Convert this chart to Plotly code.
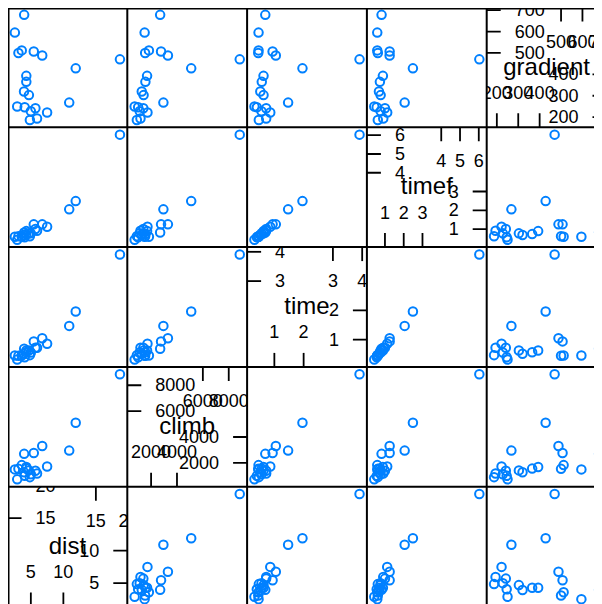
import plotly.graph_objects as go

# ---- data ----
names = ["dist", "climb", "time", "timef", "gradient"]
dist = [18.7, 11.9, 10.9, 6.75, 5.45, 3.97, 2.54, 3.09, 3.6, 4.3, 4.3, 4.7, 3.95,
        7.5, 5.95, 5.7, 4.85, 4.05, 2.9, 5.0]
climb = [8850, 5100, 2950, 3300, 2770, 2700, 1500, 1540, 1830, 1690, 1560, 1420, 1280,
         1720, 1180, 1400, 900, 1000, 730, 1120]
time = [3.91, 1.96, 1.47, 1.05, 0.94, 0.69, 0.46, 0.45, 0.46, 0.63, 0.57, 0.63, 0.52,
        0.86, 0.72, 0.72, 0.47, 0.40, 0.32, 0.56]
timef = [6.03, 2.49, 2.05, 1.25, 1.25, 0.82, 0.59, 0.62, 0.59, 0.89, 0.73, 0.77, 0.68,
         1.12, 0.91, 1.0, 0.62, 0.56, 0.43, 0.77]
gradient = [470, 428, 268, 488, 507, 678, 595, 500, 512, 393, 365, 303, 320,
            222, 194, 242, 187, 246, 250, 228]

ticks_low = {"dist": [5, 10], "climb": [2000, 4000], "time": [1, 2],
             "timef": [1, 2, 3], "gradient": [200, 300, 400]}
ticks_high = {"dist": [15, 20], "climb": [6000, 8000], "time": [3, 4],
              "timef": [4, 5, 6], "gradient": [500, 600, 700]}

data = [dist, climb, time, timef, gradient]
n = len(names)

# ---- geometry (figure pixels; page body adds an 8px offset) ----
W, H = 594, 596
L0, T0, P = -0.5, -0.5, 119.8
PAD = 0.07
FONT = "Liberation Sans, Arial, sans-serif"
PCOL = "#0080ff"
TICK_FS, NAME_FS = 18, 24
DIGIT_W = 0.556 * TICK_FS

full = []
for arr in data:
    lo, hi = min(arr), max(arr)
    r = hi - lo
    full.append((lo - PAD * r, hi + PAD * r))


def ax(prefix, i):
    return prefix + ("" if i == 0 else str(i + 1))


layout = dict(width=W, height=H, margin=dict(l=0, r=0, t=0, b=0),
              paper_bgcolor="white", plot_bgcolor="white", showlegend=False)

for c in range(n):
    lo, hi = full[c]
    a = L0 + c * P
    va, vb = max(a, 0), min(a + P, W)
    layout[ax("xaxis", c)] = dict(domain=[va / W, vb / W],
                                  range=[lo + (va - a) / P * (hi - lo),
                                         lo + (vb - a) / P * (hi - lo)],
                                  visible=False, fixedrange=True)
for v in range(n):
    lo, hi = full[v]
    t = n - 1 - v
    a = T0 + t * P               # top pixel of this row
    va, vb = max(a, 0), min(a + P, H)
    layout[ax("yaxis", v)] = dict(domain=[1 - vb / H, 1 - va / H],
                                  range=[hi - (vb - a) / P * (hi - lo),
                                         hi - (va - a) / P * (hi - lo)],
                                  visible=False, fixedrange=True)

fig = go.Figure()

# ---- scatter panels ----
for c in range(n):
    for v in range(n):
        if c == v:
            continue
        fig.add_trace(go.Scatter(
            x=data[c], y=data[v], mode="markers",
            xaxis=ax("x", c), yaxis=ax("y", v),
            marker=dict(symbol="circle-open", size=8.5, color=PCOL,
                        line=dict(width=2, color=PCOL)),
            hoverinfo="skip"))

# ---- diagonal panels: names, ticks, labels ----
shapes = []
TL = 14.0
tf = dict(family=FONT, size=TICK_FS, color="black")
for c, nm in enumerate(names):
    xa, ya = ax("x", c), ax("y", c)
    lo, hi = full[c]
    u = (hi - lo) / P            # data units per pixel
    tl = TL * u
    fig.add_trace(go.Scatter(
        x=[(lo + hi) / 2], y=[(lo + hi) / 2 - 1.3 * u], mode="text", text=[nm],
        textposition="middle center", xaxis=xa, yaxis=ya,
        textfont=dict(family=FONT, size=NAME_FS, color="black"), hoverinfo="skip"))
    low, high = ticks_low[nm], ticks_high[nm]
    for tv in high:
        shapes.append(dict(type="line", xref=xa, yref=ya, x0=lo, x1=lo + tl,
                           y0=tv, y1=tv, line=dict(color="black", width=1.8)))
        shapes.append(dict(type="line", xref=xa, yref=ya, x0=tv, x1=tv,
                           y0=hi - tl, y1=hi, line=dict(color="black", width=1.8)))
    for tv in low:
        shapes.append(dict(type="line", xref=xa, yref=ya, x0=hi - tl, x1=hi,
                           y0=tv, y1=tv, line=dict(color="black", width=1.8)))
        shapes.append(dict(type="line", xref=xa, yref=ya, x0=tv, x1=tv,
                           y0=lo, y1=lo + tl, line=dict(color="black", width=1.8)))
    hs = [str(t) for t in high]
    ls = [str(t) for t in low]
    # left labels (high values), left-aligned 28px from the left edge
    fig.add_trace(go.Scatter(
        x=[lo + (28 + len(s) * DIGIT_W / 2) * u for s in hs],
        y=[t - 1.5 * u for t in high], mode="text", text=hs,
        textposition="middle center", xaxis=xa, yaxis=ya, textfont=tf,
        hoverinfo="skip"))
    # right labels (low values), right-aligned 28px from the right edge
    fig.add_trace(go.Scatter(
        x=[hi - (28 + len(s) * DIGIT_W / 2) * u for s in ls],
        y=[t - 1.5 * u for t in low], mode="text", text=ls,
        textposition="middle center", xaxis=xa, yaxis=ya, textfont=tf,
        hoverinfo="skip"))
    # bottom labels (low values)
    fig.add_trace(go.Scatter(
        x=low, y=[lo + 33 * u] * len(low), mode="text", text=ls,
        textposition="middle center", xaxis=xa, yaxis=ya, textfont=tf,
        hoverinfo="skip"))
    # top labels (high values)
    fig.add_trace(go.Scatter(
        x=high, y=[hi - 35.5 * u] * len(high), mode="text", text=hs,
        textposition="middle center", xaxis=xa, yaxis=ya, textfont=tf,
        hoverinfo="skip"))

# ---- panel borders ----
for c in range(n + 1):
    px = max(L0 + c * P, 0.5)
    if px <= W:
        shapes.append(dict(type="line", xref="paper", yref="paper",
                           x0=px / W, x1=px / W, y0=1 - max(T0, 0) / H, y1=0,
                           line=dict(color="black", width=2)))
for t in range(n + 1):
    py = max(T0 + t * P, 0.5)
    if py <= H:
        shapes.append(dict(type="line", xref="paper", yref="paper",
                           x0=max(L0, 0) / W, x1=1, y0=1 - py / H, y1=1 - py / H,
                           line=dict(color="black", width=2)))

layout["shapes"] = shapes
fig.update_layout(**layout)
fig.write_html("out.html")
